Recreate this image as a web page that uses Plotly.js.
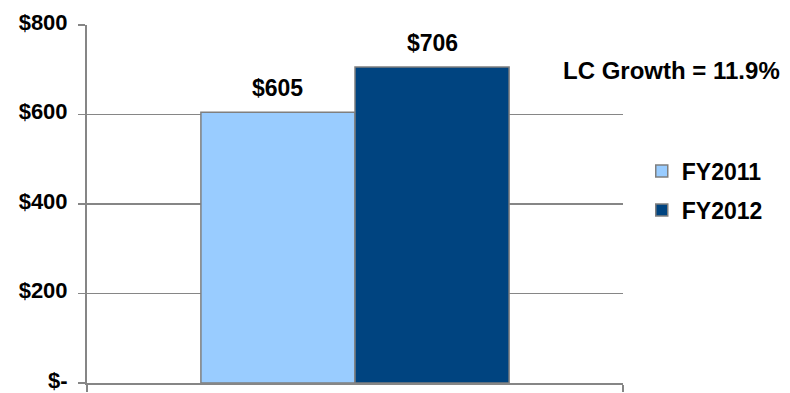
<!DOCTYPE html>
<html>
<head>
<meta charset="utf-8">
<script src="https://cdn.plot.ly/plotly-3.0.1.min.js"></script>
<style>
  html, body { margin: 0; padding: 0; background: #ffffff; }
  #chart { width: 790px; height: 393px; }
</style>
</head>
<body>
<div id="chart"></div>
<script>
// Fiscal-year spend, one group with a bar per year
const groupCategory = ['Total'];
const seriesNames = ['FY2011', 'FY2012'];
const seriesValues = [605, 706];
const seriesColors = ['#99CCFF', '#004480'];

// Y axis ticks
const yTickValues = [0, 200, 400, 600, 800];
const yTickLabels = ['$-', '$200', '$400', '$600', '$800'];

const growthNote = 'LC Growth = 11.9%';

const fontFamily = 'Liberation Sans, Arial, sans-serif';
const fontSize = 23;
const barGap = 0.425;
const gridColor = '#868686';

const traces = seriesNames.map((name, i) => ({
  type: 'bar',
  name: name,
  x: groupCategory,
  y: [seriesValues[i]],
  legendgroup: name,
  marker: { color: seriesColors[i], line: { color: '#7f7f7f', width: 1.5 } },
  hoverinfo: 'name+y'
}));

// Value labels above each bar, positioned on the category scale
const groupWidth = 1 - barGap;
const barWidth = groupWidth / seriesNames.length;
const valueLabels = seriesValues.map((v, i) => ({
  xref: 'x', yref: 'y',
  x: -groupWidth / 2 + barWidth * (i + 0.5),
  y: v,
  yshift: 24,
  yanchor: 'middle',
  xanchor: 'center',
  showarrow: false,
  text: '$' + v,
  font: { family: fontFamily, size: fontSize, color: '#000000', weight: 700 }
}));

const layout = {
  width: 790,
  height: 393,
  margin: { l: 87, r: 167, t: 25, b: 10, autoexpand: false },
  paper_bgcolor: '#ffffff',
  plot_bgcolor: '#ffffff',
  barmode: 'group',
  bargap: barGap,
  bargroupgap: 0,
  showlegend: true,
  legend: {
    x: 1.035, xanchor: 'left',
    y: 0.652, yanchor: 'top',
    traceorder: 'grouped',
    tracegroupgap: 6,
    font: { family: fontFamily, size: fontSize, color: '#000000', weight: 700 },
    bgcolor: 'rgba(0,0,0,0)'
  },
  xaxis: {
    type: 'category',
    showticklabels: false,
    ticks: 'outside',
    tickson: 'boundaries',
    ticklen: 7,
    tickcolor: gridColor,
    tickwidth: 1.5,
    showline: true,
    linecolor: gridColor,
    linewidth: 2,
    showgrid: false,
    zeroline: false,
    fixedrange: true
  },
  yaxis: {
    range: [0, 800],
    tickvals: yTickValues,
    ticktext: yTickLabels,
    ticks: 'outside',
    ticklen: 7,
    tickcolor: gridColor,
    tickwidth: 1.5,
    ticklabelstandoff: 6,
    ticklabelshift: -3,
    ticklabeloverflow: 'allow',
    tickfont: { family: fontFamily, size: 22, color: '#000000', weight: 700 },
    showline: true,
    linecolor: gridColor,
    linewidth: 2,
    showgrid: true,
    gridcolor: gridColor,
    gridwidth: 1.5,
    zeroline: false,
    fixedrange: true
  },
  annotations: valueLabels.concat([{
    xref: 'paper', yref: 'paper',
    x: 1.297, xanchor: 'right',
    y: 0.872, yanchor: 'middle',
    showarrow: false,
    text: growthNote,
    font: { family: fontFamily, size: 24, color: '#000000', weight: 700 }
  }])
};

Plotly.newPlot('chart', traces, layout, { displayModeBar: false, staticPlot: true });
</script>
</body>
</html>
